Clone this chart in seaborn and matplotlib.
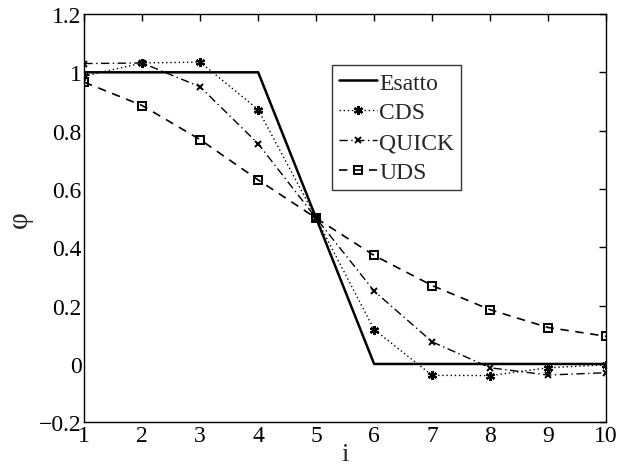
import matplotlib
matplotlib.use("Agg")
import matplotlib.pyplot as plt
import seaborn as sns
import pandas as pd

i_vals = [1, 2, 3, 4, 5, 6, 7, 8, 9, 10]
esatto = [1.0, 1.0, 1.0, 1.0, 0.5, 0.0, 0.0, 0.0, 0.0, 0.0]
cds = [0.987, 1.032, 1.035, 0.872, 0.5, 0.118, -0.039, -0.040, -0.013, -0.003]
quick = [1.030, 1.032, 0.950, 0.755, 0.5, 0.250, 0.076, -0.013, -0.038, -0.030]
uds = [0.966, 0.886, 0.769, 0.631, 0.5, 0.372, 0.269, 0.186, 0.125, 0.095]

xticks = [1, 2, 3, 4, 5, 6, 7, 8, 9, 10]
yticks = [-0.2, 0, 0.2, 0.4, 0.6, 0.8, 1.0, 1.2]
yticklabels = ["\u22120.2", "0", "0.2", "0.4", "0.6", "0.8", "1", "1.2"]

sns.set_theme(style="white")
plt.rcParams["font.family"] = ["Liberation Serif", "DejaVu Serif"]

fig = plt.figure(figsize=(6.17, 4.77), dpi=100)
ax = fig.add_axes([0.1366, 0.1126, 0.8456, 0.856])

df = pd.DataFrame({"i": i_vals, "Esatto": esatto, "CDS": cds, "QUICK": quick, "UDS": uds})

sns.lineplot(data=df, x="i", y="Esatto", ax=ax, color="black", lw=1.8,
             linestyle="-", label="Esatto")
sns.lineplot(data=df, x="i", y="CDS", ax=ax, color="black", lw=1.0,
             linestyle=(0, (1, 2)), marker=(6, 2, 0), markersize=6.5,
             markeredgewidth=1.6, markeredgecolor="black", label="CDS")
sns.lineplot(data=df, x="i", y="QUICK", ax=ax, color="black", lw=1.0,
             linestyle=(0, (6, 2.5, 1, 2.5)), marker="x", markersize=4.5,
             markeredgewidth=1.4, markeredgecolor="black", label="QUICK")
sns.lineplot(data=df, x="i", y="UDS", ax=ax, color="black", lw=1.2,
             linestyle=(0, (5, 4)), marker="s", markersize=5.5, markerfacecolor="none",
             markeredgecolor="black", markeredgewidth=1.4, label="UDS")

ax.set_xlim(1, 10)
ax.set_ylim(-0.2, 1.2)
ax.set_xticks(xticks)
ax.set_xticklabels([str(t) for t in xticks])
ax.set_yticks(yticks)
ax.set_yticklabels(yticklabels)
ax.tick_params(direction="in", length=5, width=1.0, top=True, right=True,
               labelsize=17, colors="black", pad=2)
for s in ax.spines.values():
    s.set_color("black")
    s.set_linewidth(1.0)
ax.set_xlabel("i", fontsize=19, labelpad=-2)
ax.set_ylabel("\u03c6", fontsize=21, labelpad=4)
ax.grid(False)

leg = ax.legend(loc="upper left", bbox_to_anchor=(0.475, 0.875), frameon=True,
                fancybox=False, edgecolor="black", fontsize=17, handlelength=1.6,
                handletextpad=0.1, borderpad=0.3, labelspacing=0.35, borderaxespad=0)
leg.get_frame().set_linewidth(1.0)

fig.savefig("out.png", dpi=100, facecolor="white")
